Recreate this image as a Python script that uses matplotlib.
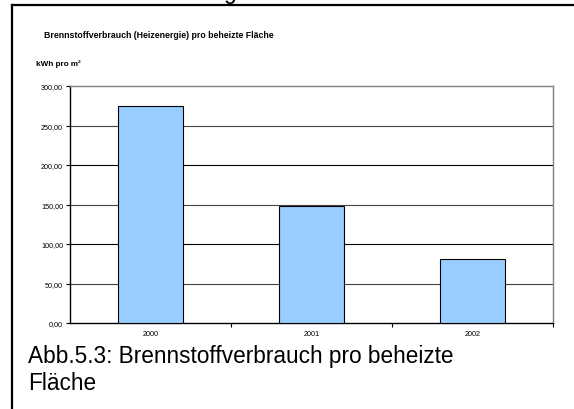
import matplotlib
matplotlib.use("Agg")
import matplotlib.pyplot as plt
from matplotlib.lines import Line2D
from matplotlib.ticker import FixedLocator, FuncFormatter

plt.rcParams['font.family'] = ['Liberation Sans', 'DejaVu Sans']

categories = ["2000", "2001", "2002"]
values = [275.0, 147.5, 80.5]
y_ticks = [0, 50, 100, 150, 200, 250, 300]

title = "Brennstoffverbrauch (Heizenergie) pro beheizte Fläche"
ylabel = "kWh pro m²"
caption = "Abb.5.3: Brennstoffverbrauch pro beheizte\nFläche"

W, H = 574, 410
fig = plt.figure(figsize=(W / 100, H / 100), dpi=100)

def fx(px):
    return px / W

def fy(py):
    return 1 - py / H

# outer frame (top and left)
fig.add_artist(Line2D([fx(12), 1.0], [fy(6), fy(6)], color='black', lw=1.6))
fig.add_artist(Line2D([fx(12), fx(12)], [fy(6), 0.0], color='black', lw=1.6))

# cut-off heading descender above the frame (as in the reference)
fig.text(fx(230), fy(-1), "g", fontsize=16.3, ha='center', va='baseline')

# axes
left, right, top, bottom = 70, 553, 87, 324
ax = fig.add_axes([fx(left), fy(bottom), fx(right - left), (bottom - top) / H])

x = range(len(categories))
ax.bar(x, values, width=0.4, color='#99ccff', edgecolor='black', linewidth=0.8, zorder=3)

ax.set_xlim(-0.5, len(categories) - 0.5)
ax.set_ylim(0, 300)

ax.yaxis.set_major_locator(FixedLocator(y_ticks))
ax.yaxis.set_major_formatter(FuncFormatter(lambda v, p: f"{v:.2f}".replace('.', ',')))
for v in y_ticks[1:-1]:
    ax.axhline(v, color='black' if v % 100 == 0 else '#444444', lw=0.8, zorder=1)

ax.set_xticks(list(x))
ax.set_xticklabels(categories)
ax.set_xticks([i + 0.5 for i in x], minor=True)
ax.tick_params(axis='x', which='major', length=0, labelsize=5.2, pad=5)
ax.tick_params(axis='x', which='minor', length=3, width=0.8, direction='out')
ax.tick_params(axis='y', which='major', length=3, width=0.8, direction='out', labelsize=5.2, pad=2)

for s in ['left', 'bottom']:
    ax.spines[s].set_color('black')
    ax.spines[s].set_linewidth(1.0)
for s in ['right', 'top']:
    ax.spines[s].set_color('#808080')
    ax.spines[s].set_linewidth(1.0)

fig.text(fx(44), fy(35), title, fontsize=6.35, fontweight='bold', ha='left', va='center')
fig.text(fx(36), fy(64), ylabel, fontsize=5.9, fontweight='bold', ha='left', va='center')
fig.text(fx(28), fy(345), caption, fontsize=16.3, ha='left', va='top', linespacing=1.2)

fig.savefig("out.png", dpi=100)
